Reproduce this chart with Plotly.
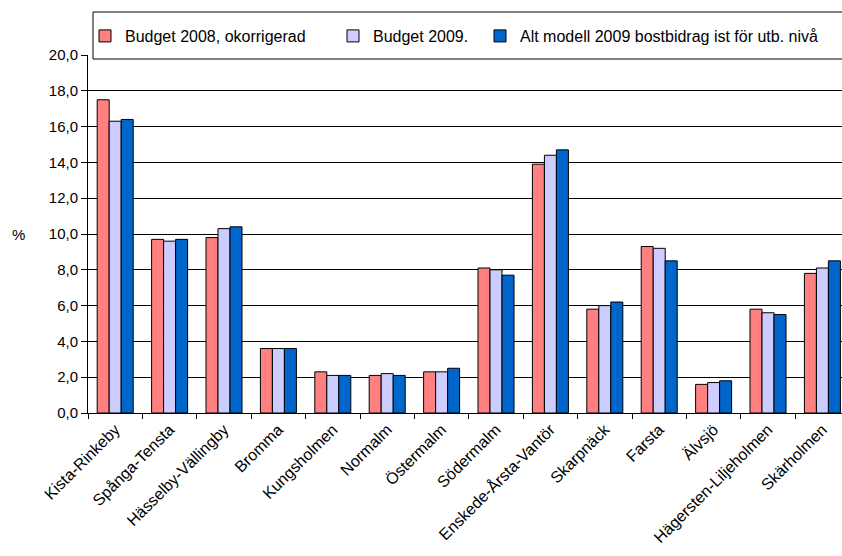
import plotly.graph_objects as go

categories = ["Kista-Rinkeby", "Spånga-Tensta", "Hässelby-Vällingby", "Bromma", "Kungsholmen",
              "Normalm", "Östermalm", "Södermalm", "Enskede-Årsta-Vantör", "Skarpnäck",
              "Farsta", "Älvsjö", "Hägersten-Liljeholmen", "Skärholmen"]
budget_2008 = [17.5, 9.7, 9.8, 3.6, 2.3, 2.1, 2.3, 8.1, 13.9, 5.8, 9.3, 1.6, 5.8, 7.8]
budget_2009 = [16.3, 9.6, 10.3, 3.6, 2.1, 2.2, 2.3, 8.0, 14.4, 6.0, 9.2, 1.7, 5.6, 8.1]
alt_2009 = [16.4, 9.7, 10.4, 3.6, 2.1, 2.1, 2.5, 7.7, 14.7, 6.2, 8.5, 1.8, 5.5, 8.5]
series_names = ["Budget 2008, okorrigerad", "Budget 2009.", "Alt modell 2009 bostbidrag ist för utb. nivå"]
y_ticks = [0, 2, 4, 6, 8, 10, 12, 14, 16, 18, 20]

colors = ["#FF8080", "#CCCCFF", "#0066CC"]
legend_widths = [203, 102, 330]
FONT = "Liberation Sans, Arial, sans-serif"

fig = go.Figure()
for name, vals, col, lw in zip(series_names, [budget_2008, budget_2009, alt_2009], colors, legend_widths):
    fig.add_trace(go.Bar(
        x=categories, y=vals, name=name,
        marker=dict(color=col, line=dict(color="black", width=1)),
        legendwidth=lw,
    ))

W, H = 842, 556
L, R, T, B = 88, 0, 55, 143
ph = H - T - B

def py(pix):
    return (H - B - pix) / ph

def px(pix):
    return (pix - L) / (W - L - R)

fig.update_layout(
    width=W, height=H,
    margin=dict(l=L, r=R, t=T, b=B, pad=0, autoexpand=False),
    paper_bgcolor="white", plot_bgcolor="white",
    separators=", ",
    barmode="group", bargap=0.338, bargroupgap=0,
    font=dict(family=FONT, size=15, color="black"),
    showlegend=True,
    legend=dict(
        orientation="h", x=px(85), xanchor="left", y=py(36), yanchor="middle",
        font=dict(family=FONT, size=16, color="black"),
        bgcolor="rgba(0,0,0,0)", borderwidth=0, traceorder="normal",
    ),
    xaxis=dict(
        type="category", range=[-0.5, 13.36], automargin=False,
        showline=True, linecolor="black", linewidth=1,
        ticks="outside", tickson="boundaries", ticklen=5, tickcolor="black",
        tickangle=-45, tickfont=dict(family=FONT, size=16, color="black"),
        showgrid=False,
    ),
    yaxis=dict(
        range=[0, 20], tickvals=y_ticks, tickformat=".1f", automargin=False,
        showline=True, linecolor="black", linewidth=1,
        ticks="outside", ticklen=6, tickcolor="black",
        showgrid=True, gridcolor="black", gridwidth=1,
        tickfont=dict(family=FONT, size=15, color="black"),
        zeroline=False,
    ),
    shapes=[dict(
        type="rect", xref="paper", yref="paper",
        x0=px(93), x1=1.05, y0=py(59), y1=py(12),
        fillcolor="white", line=dict(color="black", width=1), layer="above",
    )],
    annotations=[dict(
        text="%", xref="paper", yref="paper", x=px(18), y=py(234),
        xanchor="center", yanchor="middle", showarrow=False,
        font=dict(family=FONT, size=15, color="black"),
    )],
)

fig.write_html("out.html", config={"displayModeBar": False},
               post_script="document.body.style.margin='0';document.body.style.overflow='hidden';")
